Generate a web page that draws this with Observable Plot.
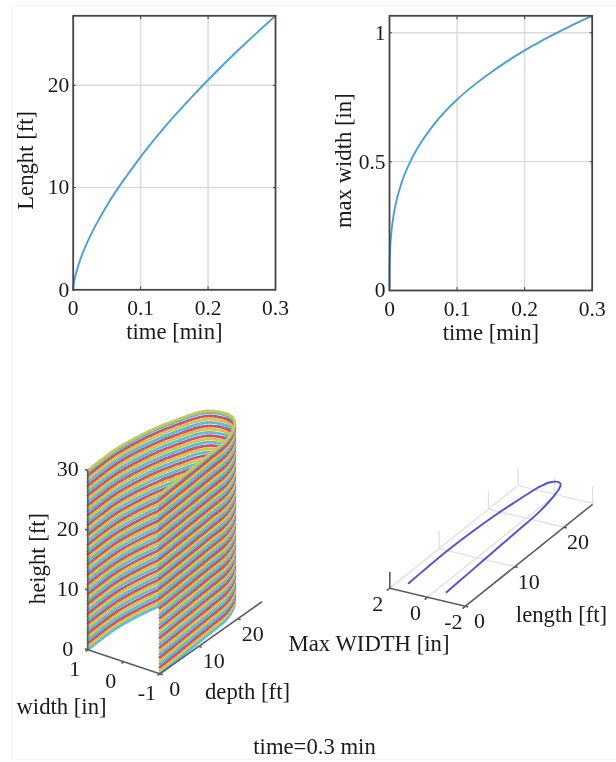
<!DOCTYPE html>
<html><head><meta charset="utf-8">
<script src="https://cdn.jsdelivr.net/npm/d3@7"></script>
<script src="https://cdn.jsdelivr.net/npm/@observablehq/plot@0.6"></script>
<style>
html,body{margin:0;padding:0;background:#fff}
#fig{position:relative;width:616px;height:762px;overflow:hidden}
#fig svg{position:absolute;filter:blur(.45px);background:transparent}
#edge{position:absolute;left:11px;top:5px;width:605px;height:755px;border-left:1px solid #f5f5f5;border-top:1px solid #f5f5f5;border-bottom:1px solid #f5f5f5;box-sizing:border-box}
</style></head><body><div id="fig"><div id="edge"></div></div>
<script>
const FONT = "Liberation Serif";
const timeTicks = [0, 0.1, 0.2, 0.3];
const lengthTicks = [0, 10, 20];
const maxWidthTicks = [0, 0.5, 1];

const lengthTime = [0, 0.0005, 0.002, 0.005, 0.01, 0.02, 0.03, 0.04, 0.05, 0.065, 0.08, 0.1, 0.125, 0.15, 0.175, 0.2, 0.225, 0.25, 0.275, 0.3];
const lengthFt = [0, 0.4, 1, 1.8, 2.86, 4.52, 5.89, 7.1, 8.25, 9.8, 11.2, 13, 15.07, 17, 18.8, 20.52, 22.18, 23.77, 25.3, 26.8];
const widthTime = [0, 0.00003, 0.0002, 0.001, 0.003, 0.006, 0.01, 0.015, 0.02, 0.03, 0.04, 0.05, 0.065, 0.08, 0.1, 0.125, 0.15, 0.175, 0.2, 0.225, 0.25, 0.275, 0.3];
const widthIn = [0, 0.05, 0.095, 0.16, 0.231, 0.291, 0.345, 0.394, 0.434, 0.496, 0.546, 0.588, 0.642, 0.688, 0.741, 0.797, 0.846, 0.891, 0.932, 0.969, 1.003, 1.036, 1.066];

// fracture outline: depth [ft] and half width [in]
const outlineDepth = [0, 4, 8.2, 13, 17.6, 21, 23.4, 25, 26, 26.5, 26.7, 26.4, 25.5, 23.8, 22, 19.5, 15, 10, 5, 0];
const outlineWidth = [1, 1.05, 1.08, 1.03, 0.92, 0.78, 0.67, 0.56, 0.44, 0.28, 0.06, -0.15, -0.32, -0.48, -0.6, -0.71, -0.78, -0.855, -0.93, -1];
const tipIndex = 10;
const layerHeights = [0, 0.55, 1.1, 1.65, 2.2, 2.75, 3.3, 3.85, 4.4, 4.95, 5.5, 6.05, 6.6, 7.15, 7.7, 8.25, 8.8, 9.35, 9.9, 10.45, 11, 11.55, 12.1, 12.65, 13.2, 13.75, 14.3, 14.85, 15.4, 15.95, 16.5, 17.05, 17.6, 18.15, 18.7, 19.25, 19.8, 20.35, 20.9, 21.45, 22, 22.55, 23.1, 23.65, 24.2, 24.75, 25.3, 25.85, 26.4, 26.95, 27.5, 28.05, 28.6, 29.15, 29.7, 30];
const layerColors = ["#58b4ec", "#c6c64c", "#d24e4c"];

const surfHeightTicks = [0, 10, 20, 30];
const surfWidthTicks = [1, 0, -1];
const surfDepthTicks = [0, 10, 20];
const planWidthTicks = [2, 0, -2];
const planDepthTicks = [0, 10, 20];
const planGridDepths = [10, 20, 26];

const fig = document.getElementById("fig");
function place(svg, left, top) { svg.style.left = left + "px"; svg.style.top = top + "px"; fig.appendChild(svg); }

function curvePanel({xs, ys, yTicks, yMax, ylabel, left, width, marginLeft, marginRight, marginBottom, yLabelDx}) {
  const common = {fontFamily: FONT, fontSize: 21.5, fill: "#1a1a1a"};
  const svg = Plot.plot({
    width, height: 350, marginLeft, marginRight, marginTop: 15.3, marginBottom,
    style: {background: "transparent", fontFamily: FONT, overflow: "visible"},
    x: {domain: [0, 0.3]}, y: {domain: [0, yMax]},
    marks: [
      Plot.gridX(timeTicks.slice(1, -1), {stroke: "#dadada", strokeOpacity: 1, strokeWidth: 1.4}),
      Plot.gridY(yTicks.slice(1).filter(t => t < yMax), {stroke: "#dadada", strokeOpacity: 1, strokeWidth: 1.4}),
      Plot.axisX({ticks: timeTicks, tickSize: -3, stroke: "#444", tickPadding: 13, label: null, tickFormat: d => String(d), ...common}),
      Plot.axisX({ticks: timeTicks, anchor: "top", tickSize: -3, stroke: "#444", label: null, tickFormat: () => ""}),
      Plot.axisY({ticks: yTicks, tickSize: -3, stroke: "#444", tickPadding: 7, label: null, tickFormat: d => String(d), ...common}),
      Plot.axisY({ticks: yTicks, anchor: "right", tickSize: -3, stroke: "#444", label: null, tickFormat: () => ""}),
      Plot.line(xs.map((x, i) => [x, ys[i]]), {x: d => d[0], y: d => d[1], stroke: "#4a9fd8", strokeWidth: 1.9, curve: "monotone-x"}),
      Plot.frame({stroke: "#454545", strokeWidth: 1.8}),
      Plot.text(["time [min]"], {frameAnchor: "bottom", dy: 49, fontFamily: FONT, fontSize: 22.7, fill: "#1a1a1a"}),
      Plot.text([ylabel], {frameAnchor: "left", textAnchor: "middle", rotate: -90, dx: yLabelDx, dy: 7.5, fontFamily: FONT, fontSize: 22.7, fill: "#1a1a1a"})
    ]
  });
  place(svg, left, 0);
}
curvePanel({xs: lengthTime, ys: lengthFt, yTicks: lengthTicks, yMax: 26.8, ylabel: "Lenght [ft]", left: 0, width: 300, marginLeft: 72.7, marginRight: 25, marginBottom: 60.7, yLabelDx: -47});
curvePanel({xs: widthTime, ys: widthIn, yTicks: maxWidthTicks, yMax: 1.066, ylabel: "max width [in]", left: 300, width: 316, marginLeft: 89, marginRight: 24.3, marginBottom: 60, yLabelDx: -45.5});

// oblique projections of the two 3-D panels
const surfX = (w, d) => 123.3 - 36 * w + 3.9 * d;
const surfY = (w, d, h) => 661.3 - 12 * w - 2.55 * d - 5.98 * h;
const surfAxisY = (w, d, h) => 661.3 - 12 * w - 2.75 * d - 5.98 * h;
const planX = (w, d) => 427.1 - 18.9 * w + 4.93 * d;
const planY = (w, d, z) => 587.2 - 4.5 * w - 3.95 * d - 9.5 * z;

const outline = outlineDepth.map((d, i) => ({d, w: outlineWidth[i], i}));
const surfRows = (from, to) => layerHeights.flatMap((h, k) =>
  outline.slice(from, to + 1).map(p => ({u: surfX(p.w, p.d), v: surfY(p.w, p.d, h), layer: k, color: layerColors[k % 3]})));
const backRows = surfRows(0, tipIndex + 1);
const frontRows = surfRows(tipIndex, outline.length - 1);
const lineOpts = {x: "u", y: "v", z: "layer", stroke: "color", strokeWidth: 2.75, curve: "catmull-rom"};
const speckle = {x: "u", y: "v", z: "layer", stroke: "#fff", strokeOpacity: 0.15, strokeWidth: 1, strokeDasharray: "1 3", curve: "catmull-rom"};

const seg = (w1, d1, z1, w2, d2, z2, X, Y) => ({x1: X(w1, d1), y1: Y(w1, d1, z1), x2: X(w2, d2), y2: Y(w2, d2, z2)});
const links = (rows, o) => Plot.link(rows, {x1: "x1", y1: "y1", x2: "x2", y2: "y2", ...o});
const lab = (rows, o) => Plot.text(rows, {x: "x", y: "y", text: "t", fontFamily: FONT, fontSize: 22, fill: "#1a1a1a", lineAnchor: "middle", ...o});

const dark = {stroke: "#5c5c5c", strokeWidth: 1.6};
const faint = {stroke: "#dedede", strokeWidth: 1.2};

const surfAxes = [
  seg(1, 0, 0, 1, 0, 30, surfX, surfAxisY),
  seg(1, 0, 0, -1, 0, 0, surfX, surfAxisY),
  seg(-1, 0, 0, -1, 26.2, 0, surfX, surfAxisY)
];
const surfTicks = [
  ...surfHeightTicks.map(h => seg(1, 0, h, 1.08, 0, h, surfX, surfAxisY)),
  ...surfWidthTicks.map(w => seg(w, 0, 0, w, -0.6, 0, surfX, surfAxisY)),
  ...surfDepthTicks.map(d => seg(-1, d, 0, -1.08, d, 0, surfX, surfAxisY))
];
const planFloor = [
  seg(2, 0, -1, -2, 0, -1, planX, planY),
  seg(-2, 0, -1, -2, 25.8, -1, planX, planY),
  seg(2, 0, -1, 2, 0, 0.7, planX, planY)
];
const planTicks = [
  ...planWidthTicks.map(w => seg(w, 0, -1, w, -0.6, -1, planX, planY)),
  ...planDepthTicks.map(d => seg(-2, d, -1, -2.15, d, -1, planX, planY))
];
const planFaint = [
  seg(2, 0, -1, 2, 25.8, -1, planX, planY),
  seg(0, 0, -1, 0, 25.8, -1, planX, planY),
  ...planGridDepths.map(d => seg(2, d, -1, -2, d, -1, planX, planY)),
  ...planGridDepths.map(d => seg(2, d, -1, 2, d, 0.9, planX, planY)),
  seg(0, 25.8, -1, 0, 25.8, 0.9, planX, planY),
  seg(-2, 25.8, -1, -2, 25.8, 0.9, planX, planY)
];
const planCurve = outline.map(p => ({u: planX(p.w, p.d), v: planY(p.w, p.d, 0)}));

const bottom = Plot.plot({
  width: 616, height: 412, margin: 0,
  style: {background: "transparent", fontFamily: FONT},
  x: {domain: [0, 616], range: [0, 616], axis: null},
  y: {domain: [350, 762], range: [0, 412], axis: null},
  color: {type: "identity"},
  marks: [
    Plot.line(backRows, lineOpts),
    Plot.line(backRows, speckle),
    Plot.line(frontRows, lineOpts),
    Plot.line(frontRows, speckle),
    links(surfAxes, dark),
    links(surfTicks, dark),
    lab(surfHeightTicks.map(h => ({x: surfX(1, 0), y: surfAxisY(1, 0, h), t: String(h)})), {dx: -20, dy: -1}),
    lab(surfWidthTicks.map(w => ({x: surfX(w, 0), y: surfAxisY(w, 0, 0), t: String(w)})), {dx: -13, dy: 19}),
    lab(surfDepthTicks.map(d => ({x: surfX(-1, d), y: surfAxisY(-1, d, 0), t: String(d)})), {dx: 15, dy: 15}),
    lab([{x: 37, y: 558, t: "height [ft]"}], {rotate: -90, fontSize: 22.7}),
    lab([{x: 61, y: 706, t: "width [in]"}], {fontSize: 22.7}),
    lab([{x: 247, y: 691, t: "depth [ft]"}], {fontSize: 22.7}),
    links(planFaint, faint),
    links(planFloor, dark),
    links(planTicks, dark),
    Plot.line(planCurve, {x: "u", y: "v", stroke: "#4b52dd", strokeWidth: 1.9, curve: "catmull-rom"}),
    lab(planWidthTicks.map(w => ({x: planX(w, 0), y: planY(w, 0, -1), t: String(w)})), {dx: -12, dy: 16}),
    lab(planDepthTicks.map(d => ({x: planX(-2, d), y: planY(-2, d, -1), t: String(d)})), {dx: 14, dy: 15}),
    lab([{x: 561, y: 614, t: "length [ft]"}], {fontSize: 22.7}),
    lab([{x: 368.5, y: 643, t: "Max WIDTH [in]"}], {fontSize: 22.7}),
    lab([{x: 314, y: 746, t: "time=0.3 min"}], {fontSize: 22.7})
  ]
});
place(bottom, 0, 350);
</script></body></html>
